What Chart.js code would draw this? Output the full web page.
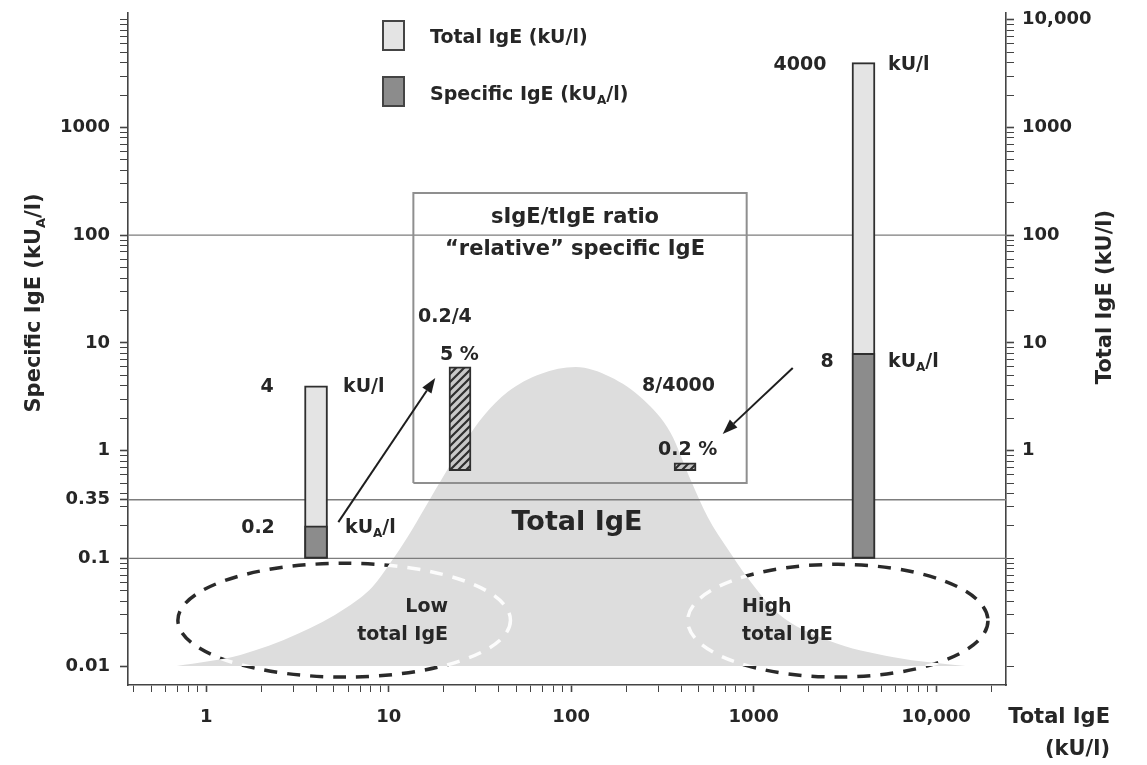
<!DOCTYPE html>
<html>
<head>
<meta charset="utf-8">
<script src="https://cdn.jsdelivr.net/npm/chart.js@4.4.1/dist/chart.umd.min.js"></script>
<style>
  html, body { margin: 0; padding: 0; background: #fff; }
  #wrap { width: 1147px; height: 765px; position: relative; }
</style>
</head>
<body>
<div id="wrap"><canvas id="igeChart" width="1147" height="765"></canvas></div>
<script>
// values (both axes logarithmic)
var bellX = [0.69, 1.54, 3.16, 5.94, 8.14, 10.2, 12.7, 15.9, 20.0, 25.7, 33.1, 44.8, 68.0, 106, 164, 250, 351, 452, 560, 721, 929, 1356, 2548, 5861, 14500];
var bellY = [0.01, 0.0127, 0.0198, 0.0353, 0.0541, 0.0905, 0.158, 0.30, 0.58, 1.15, 2.10, 3.50, 5.14, 5.97, 4.82, 2.95, 1.46, 0.533, 0.242, 0.122, 0.0656, 0.031, 0.0174, 0.0121, 0.01];

var barX = [4, 4000];          // total IgE of the two patients
var totalIgE = [4, 4000];      // kU/l
var specificIgE = [0.2, 8];    // kUA/l
var barBase = 0.1;

var ratioX = [24.6, 421];      // "relative" specific IgE bars inside the box
var ratioTop = [6, 0.77];
var ratioBase = 0.65;

var cutoffs = [100, 0.35, 0.1];
var boxX = [13.66, 916];
var boxY = [0.5, 247];

var arrowFrom = [[5.3, 0.217], [1638, 5.85]];
var arrowTo = [[18.0, 4.72], [677, 1.43]];

var lowEllipse = { x: [0.70, 46.5], y: [0.0079, 0.09] };
var highEllipse = { x: [435, 19240], y: [0.0079, 0.088] };

var xTickValues = [1, 10, 100, 1000, 10000];
var xTickLabels = ['1', '10', '100', '1000', '10,000'];
var yLeftTickValues = [0.01, 0.1, 0.35, 1, 10, 100, 1000];
var yLeftTickLabels = ['0.01', '0.1', '0.35', '1', '10', '100', '1000'];
var yRightTickValues = [1, 10, 100, 1000, 10000];
var yRightTickLabels = ['1', '10', '100', '1000', '10,000'];

var X_MIN = 0.373, X_MAX = 24150;
var Y_MIN = 0.00667, Y_MAX = 11560;

var FONT = '"DejaVu Sans", "Liberation Sans", Arial, sans-serif';
var INK = '#262626';

function logTickList(lo, hi, extra) {
    var out = [];
    for (var e = -3; e <= 4; e++) {
        for (var m = 1; m <= 9; m++) {
            var v = +(m * Math.pow(10, e)).toPrecision(3);
            if (v >= lo && v <= hi) out.push(v);
        }
    }
    (extra || []).forEach(function (v) { out.push(v); });
    return out.sort(function (a, b) { return a - b; });
}

var hatch = (function () {
    var c = document.createElement('canvas');
    c.width = 8; c.height = 8;
    var g = c.getContext('2d');
    g.fillStyle = '#c8c8c8';
    g.fillRect(0, 0, 8, 8);
    g.strokeStyle = '#2e2e2e';
    g.lineWidth = 2.2;
    g.beginPath();
    g.moveTo(0, 8); g.lineTo(8, 0);
    g.moveTo(-2, 2); g.lineTo(2, -2);
    g.moveTo(6, 10); g.lineTo(10, 6);
    g.stroke();
    return g.createPattern(c, 'repeat');
})();

function pts(xs, ys) {
    return xs.map(function (x, i) { return { x: x, y: ys[i] }; });
}

var datasets = [];
datasets.push({
    type: 'line', label: 'bell', data: pts(bellX, bellY),
    borderWidth: 0, backgroundColor: '#dddddd', fill: { value: 0.01 },
    pointRadius: 0, cubicInterpolationMode: 'monotone', order: 10
});
cutoffs.forEach(function (c) {
    datasets.push({
        type: 'line', data: [{ x: X_MIN, y: c }, { x: X_MAX, y: c }],
        borderColor: '#7d7d7d', borderWidth: 1.3, pointRadius: 0, fill: false, order: 8
    });
});
datasets.push({
    type: 'line',
    data: [{ x: boxX[0], y: boxY[0] }, { x: boxX[1], y: boxY[0] }, { x: boxX[1], y: boxY[1] }, { x: boxX[0], y: boxY[1] }, { x: boxX[0], y: boxY[0] }],
    borderColor: '#8f8f8f', borderWidth: 2, pointRadius: 0, fill: false, tension: 0, order: 7
});
datasets.push({
    type: 'bar', label: 'Total IgE (kU/l)',
    data: barX.map(function (x, i) { return { x: x, y: [barBase, totalIgE[i]] }; }),
    backgroundColor: '#e4e4e4', borderColor: '#2f2f2f', borderWidth: 2, borderSkipped: false,
    barThickness: 23, grouped: false, order: 5
});
datasets.push({
    type: 'bar', label: 'Specific IgE (kUA/l)',
    data: barX.map(function (x, i) { return { x: x, y: [barBase, specificIgE[i]] }; }),
    backgroundColor: '#8c8c8c', borderColor: '#2f2f2f', borderWidth: 2, borderSkipped: false,
    barThickness: 23, grouped: false, order: 4
});
datasets.push({
    type: 'bar', label: 'ratio',
    data: ratioX.map(function (x, i) { return { x: x, y: [ratioBase, ratioTop[i]] }; }),
    backgroundColor: hatch, borderColor: '#2f2f2f', borderWidth: 2, borderSkipped: false,
    barThickness: 22, grouped: false, order: 4
});

function ellipsePath(ctx, chart, e) {
    var xs = chart.scales.x, ys = chart.scales.y;
    var x0 = xs.getPixelForValue(e.x[0]), x1 = xs.getPixelForValue(e.x[1]);
    var y0 = ys.getPixelForValue(e.y[0]), y1 = ys.getPixelForValue(e.y[1]);
    ctx.beginPath();
    ctx.ellipse((x0 + x1) / 2, (y0 + y1) / 2, Math.abs(x1 - x0) / 2, Math.abs(y1 - y0) / 2, 0, 0, Math.PI * 2);
}

function strokeEllipses(ctx, chart, color) {
    ctx.save();
    ctx.strokeStyle = color;
    ctx.lineWidth = 3.5;
    ctx.setLineDash([13, 10]);
    [lowEllipse, highEllipse].forEach(function (e) {
        ellipsePath(ctx, chart, e);
        ctx.stroke();
    });
    ctx.restore();
}

// text with an optional subscript part
function richText(ctx, parts, x, y, size, align) {
    var w = 0;
    parts.forEach(function (p) {
        ctx.font = 'bold ' + (p.sub ? Math.round(size * 0.62) : size) + 'px ' + FONT;
        p.w = ctx.measureText(p.t).width;
        w += p.w;
    });
    var cx = align === 'center' ? x - w / 2 : align === 'right' ? x - w : x;
    ctx.textAlign = 'left';
    ctx.textBaseline = 'middle';
    parts.forEach(function (p) {
        ctx.font = 'bold ' + (p.sub ? Math.round(size * 0.62) : size) + 'px ' + FONT;
        ctx.fillText(p.t, cx, p.sub ? y + size * 0.32 : y);
        cx += p.w;
    });
}

function txt(ctx, s, x, y, size, align) {
    richText(ctx, [{ t: s }], x, y, size, align);
}

function kUA(suffix) {
    return [{ t: 'kU' }, { t: 'A', sub: true }, { t: suffix }];
}

var sketchPlugin = {
    id: 'sketch',
    beforeDatasetsDraw: function (chart) {
        strokeEllipses(chart.ctx, chart, '#2a2a2a');
    },
    afterDatasetsDraw: function (chart) {
        var ctx = chart.ctx;
        // ellipse dashes turn white where they cross the distribution
        var meta = chart.getDatasetMeta(0);
        ctx.save();
        ctx.beginPath();
        if (meta.dataset && typeof meta.dataset.path === 'function') {
            meta.dataset.path(ctx);
        } else {
            meta.data.forEach(function (p, i) { if (i) ctx.lineTo(p.x, p.y); else ctx.moveTo(p.x, p.y); });
        }
        ctx.closePath();
        ctx.clip();
        strokeEllipses(ctx, chart, 'rgba(255,255,255,0.9)');
        ctx.restore();

        // arrows
        var xs = chart.scales.x, ys = chart.scales.y;
        ctx.save();
        ctx.strokeStyle = '#1e1e1e';
        ctx.fillStyle = '#1e1e1e';
        ctx.lineWidth = 2;
        arrowFrom.forEach(function (f, i) {
            var x0 = xs.getPixelForValue(f[0]), y0 = ys.getPixelForValue(f[1]);
            var x1 = xs.getPixelForValue(arrowTo[i][0]), y1 = ys.getPixelForValue(arrowTo[i][1]);
            var a = Math.atan2(y1 - y0, x1 - x0), L = 15, H = 5.5;
            var bx = x1 - L * Math.cos(a), by = y1 - L * Math.sin(a);
            ctx.beginPath();
            ctx.moveTo(x0, y0);
            ctx.lineTo(bx, by);
            ctx.stroke();
            ctx.beginPath();
            ctx.moveTo(x1, y1);
            ctx.lineTo(bx + H * Math.sin(a), by - H * Math.cos(a));
            ctx.lineTo(bx - H * Math.sin(a), by + H * Math.cos(a));
            ctx.closePath();
            ctx.fill();
        });
        ctx.restore();
    },
    afterDraw: function (chart) {
        var ctx = chart.ctx;
        ctx.save();
        ctx.fillStyle = INK;

        // legend
        ctx.lineWidth = 2;
        ctx.strokeStyle = '#444';
        ctx.fillStyle = '#e4e4e4';
        ctx.fillRect(383, 21, 21, 29);
        ctx.strokeRect(383, 21, 21, 29);
        ctx.fillStyle = '#8c8c8c';
        ctx.fillRect(383, 77, 21, 29);
        ctx.strokeRect(383, 77, 21, 29);
        ctx.fillStyle = INK;
        txt(ctx, 'Total IgE (kU/l)', 430, 38, 19, 'left');
        richText(ctx, [{ t: 'Specific IgE (kU' }, { t: 'A', sub: true }, { t: '/l)' }], 430, 95, 19, 'left');

        // bar annotations
        txt(ctx, '4', 267, 387, 19, 'center');
        txt(ctx, 'kU/l', 343, 387, 19, 'left');
        txt(ctx, '0.2', 258, 528, 19, 'center');
        richText(ctx, kUA('/l'), 345, 528, 19, 'left');
        txt(ctx, '4000', 800, 65, 19, 'center');
        txt(ctx, 'kU/l', 888, 65, 19, 'left');
        txt(ctx, '8', 827, 362, 19, 'center');
        richText(ctx, kUA('/l'), 888, 362, 19, 'left');

        // ratio box
        txt(ctx, 'sIgE/tIgE ratio', 575, 218, 21, 'center');
        txt(ctx, '\u201crelative\u201d specific IgE', 575, 250, 21, 'center');
        txt(ctx, '0.2/4', 418, 317, 19, 'left');
        txt(ctx, '5 %', 440, 355, 19, 'left');
        txt(ctx, '8/4000', 642, 386, 19, 'left');
        txt(ctx, '0.2 %', 658, 450, 19, 'left');

        txt(ctx, 'Total IgE', 577, 523, 27, 'center');
        txt(ctx, 'Low', 448, 607, 19, 'right');
        txt(ctx, 'total IgE', 448, 635, 19, 'right');
        txt(ctx, 'High', 742, 607, 19, 'left');
        txt(ctx, 'total IgE', 742, 635, 19, 'left');

        // axis titles
        txt(ctx, 'Total IgE', 1110, 718, 21, 'right');
        txt(ctx, '(kU/l)', 1110, 750, 21, 'right');

        ctx.save();
        ctx.translate(35, 303);
        ctx.rotate(-Math.PI / 2);
        richText(ctx, [{ t: 'Specific IgE (kU' }, { t: 'A', sub: true }, { t: '/l)' }], 0, 0, 21, 'center');
        ctx.restore();

        ctx.save();
        ctx.translate(1106, 297);
        ctx.rotate(-Math.PI / 2);
        txt(ctx, 'Total IgE (kU/l)', 0, 0, 21, 'center');
        ctx.restore();

        ctx.restore();
    }
};

function labelFrom(values, labels) {
    return function (value) {
        var i = values.indexOf(value);
        return i >= 0 ? labels[i] : '';
    };
}

function tickWidthFrom(values) {
    return function (c) {
        return c.tick && values.indexOf(c.tick.value) >= 0 ? 1.6 : 1;
    };
}

var tickFont = { family: FONT, weight: 'bold', size: 18 };
var xTicks = logTickList(0.4, 20000);
var yTicks = logTickList(0.01, 10000, [0.35]);
var y2Ticks = logTickList(0.01, 10000);

new Chart(document.getElementById('igeChart').getContext('2d'), {
    type: 'line',
    data: { datasets: datasets },
    options: {
        responsive: false,
        animation: false,
        events: [],
        layout: { padding: { top: 13, left: 0, right: 0, bottom: 0 } },
        plugins: { legend: { display: false }, tooltip: { enabled: false } },
        scales: {
            x: {
                type: 'logarithmic', position: 'bottom', min: X_MIN, max: X_MAX, offset: false,
                afterBuildTicks: function (s) { s.ticks = xTicks.map(function (v) { return { value: v }; }); },
                afterFit: function (s) { s.height = 80; s.paddingLeft = 0; s.paddingRight = 0; },
                ticks: { autoSkip: false, maxRotation: 0, padding: 15, color: INK, font: tickFont,
                    callback: labelFrom(xTickValues, xTickLabels) },
                grid: { offset: false, drawOnChartArea: false, drawTicks: true, tickLength: 7,
                    tickColor: '#444', tickWidth: tickWidthFrom(xTickValues) },
                border: { display: true, color: '#444', width: 1.6 }
            },
            y: {
                type: 'logarithmic', position: 'left', min: Y_MIN, max: Y_MAX,
                afterBuildTicks: function (s) { s.ticks = yTicks.map(function (v) { return { value: v }; }); },
                afterFit: function (s) { s.width = 128; s.paddingTop = 0; s.paddingBottom = 0; },
                ticks: { autoSkip: false, padding: 10, color: INK, font: tickFont,
                    callback: labelFrom(yLeftTickValues, yLeftTickLabels) },
                grid: { drawOnChartArea: false, drawTicks: true, tickLength: 8,
                    tickColor: '#444', tickWidth: tickWidthFrom(yLeftTickValues) },
                border: { display: true, color: '#444', width: 1.6 }
            },
            y2: {
                type: 'logarithmic', position: 'right', min: Y_MIN, max: Y_MAX,
                afterBuildTicks: function (s) { s.ticks = y2Ticks.map(function (v) { return { value: v }; }); },
                afterFit: function (s) { s.width = 141; s.paddingTop = 0; s.paddingBottom = 0; },
                ticks: { autoSkip: false, padding: 8, color: INK, font: tickFont,
                    callback: labelFrom(yRightTickValues, yRightTickLabels) },
                grid: { drawOnChartArea: false, drawTicks: true, tickLength: 8,
                    tickColor: '#444', tickWidth: tickWidthFrom(yRightTickValues) },
                border: { display: true, color: '#444', width: 1.6 }
            }
        }
    },
    plugins: [sketchPlugin]
});
</script>
</body>
</html>
